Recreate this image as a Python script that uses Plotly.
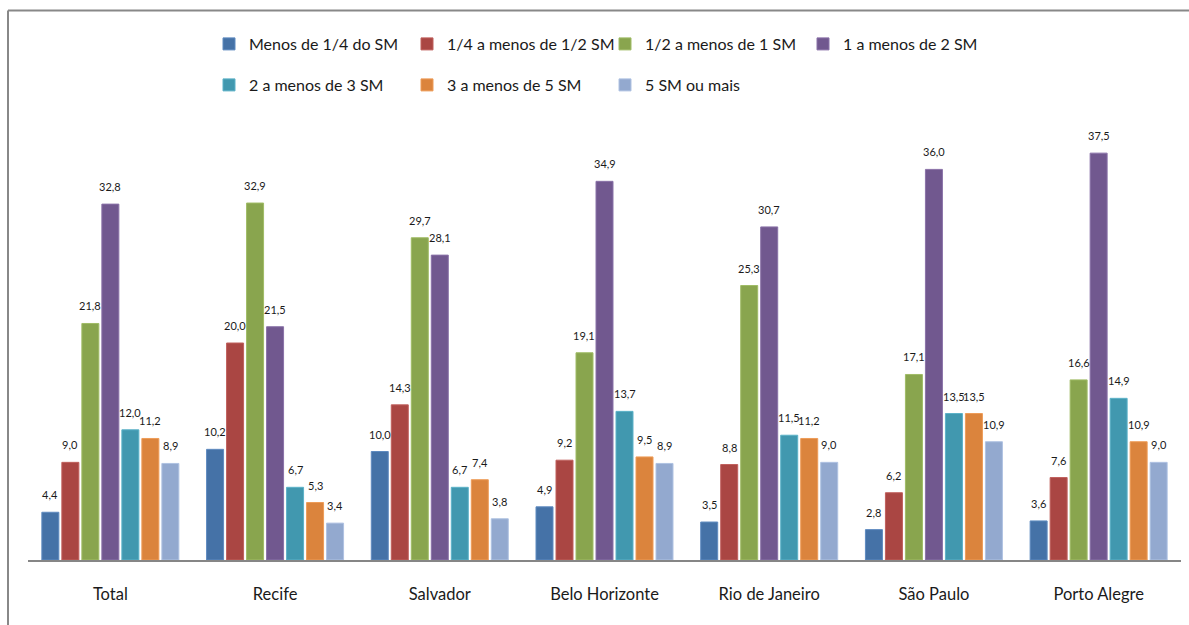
import plotly.graph_objects as go

# Income brackets (multiples of the minimum wage, SM) and metropolitan regions
categories = ["Total", "Recife", "Salvador", "Belo Horizonte",
              "Rio de Janeiro", "São Paulo", "Porto Alegre"]

series_names = ["Menos de 1/4 do SM", "1/4 a menos de 1/2 SM", "1/2 a menos de 1 SM",
                "1 a menos de 2 SM", "2 a menos de 3 SM", "3 a menos de 5 SM",
                "5 SM ou mais"]

menos_1_4 = [4.4, 10.2, 10.0, 4.9, 3.5, 2.8, 3.6]
de_1_4_a_1_2 = [9.0, 20.0, 14.3, 9.2, 8.8, 6.2, 7.6]
de_1_2_a_1 = [21.8, 32.9, 29.7, 19.1, 25.3, 17.1, 16.6]
de_1_a_2 = [32.8, 21.5, 28.1, 34.9, 30.7, 36.0, 37.5]
de_2_a_3 = [12.0, 6.7, 6.7, 13.7, 11.5, 13.5, 14.9]
de_3_a_5 = [11.2, 5.3, 7.4, 9.5, 11.2, 13.5, 10.9]
cinco_ou_mais = [8.9, 3.4, 3.8, 8.9, 9.0, 10.9, 9.0]

series_values = [menos_1_4, de_1_4_a_1_2, de_1_2_a_1, de_1_a_2,
                 de_2_a_3, de_3_a_5, cinco_ou_mais]

colors = ["#4572A7", "#AA4643", "#89A54E", "#71588F", "#4198AF", "#DB843D", "#93A9CF"]
edge_colors = ["#5F8BC0", "#C0605D", "#A0BC66", "#8A72A8", "#5CB2C8", "#EE9C58", "#AFC2E2"]

FONT = "Lato"
W, H = 1189, 625
ML, MR, MT, MB = 28, 8, 126, 65
plot_w = W - ML - MR
plot_h = H - MT - MB

fig = go.Figure()
for i, (name, vals) in enumerate(zip(series_names, series_values)):
    fig.add_trace(go.Bar(
        x=categories, y=vals, name=name,
        marker=dict(color=colors[i], line=dict(color=edge_colors[i], width=1)),
        legend="legend" if i < 4 else "legend2",
        hovertemplate="%{x}<br>" + name + ": %{y:.1f}<extra></extra>",
    ))

# Value labels above each bar
slot = plot_w / len(categories) * 0.85 / len(series_names)
annotations = []
for i, vals in enumerate(series_values):
    for cat, v in zip(categories, vals):
        annotations.append(dict(
            x=cat, y=v, xref="x", yref="y",
            text=f"{v:.1f}".replace(".", ","),
            showarrow=False, xshift=(i - 3) * slot, yshift=9,
            yanchor="bottom", xanchor="center",
            font=dict(family=FONT, size=11, color="#1a1a1a"),
        ))

def px_x(px):
    return (px - ML) / plot_w

def px_y(py):
    return (H - MB - py) / plot_h

# Outer frame (left and top edges)
shapes = [
    dict(type="line", xref="paper", yref="paper",
         x0=px_x(8), x1=px_x(W + 5), y0=px_y(10.5), y1=px_y(10.5),
         line=dict(color="#888888", width=2)),
    dict(type="line", xref="paper", yref="paper",
         x0=px_x(8), x1=px_x(8), y0=px_y(10.5), y1=px_y(H + 5),
         line=dict(color="#888888", width=2)),
]

legend_common = dict(
    orientation="h", xanchor="left", yanchor="middle",
    entrywidth=153, entrywidthmode="pixels",
    font=dict(family=FONT, size=16, color="#1a1a1a"),
    bgcolor="rgba(0,0,0,0)", itemclick=False, itemdoubleclick=False,
)

fig.update_layout(
    width=W, height=H,
    margin=dict(l=ML, r=MR, t=MT, b=MB),
    paper_bgcolor="white", plot_bgcolor="white",
    barmode="group", bargap=0.15, bargroupgap=0.15,
    showlegend=True,
    legend=dict(x=px_x(209), y=px_y(44), **legend_common),
    legend2=dict(x=px_x(209), y=px_y(85), **legend_common),
    xaxis=dict(
        showline=True, linecolor="#868686", linewidth=1.5,
        ticks="", ticklabelstandoff=18,
        tickfont=dict(family=FONT, size=16.5, color="#1a1a1a"),
        showgrid=False, fixedrange=True,
    ),
    yaxis=dict(visible=False, range=[0, 40], fixedrange=True),
    annotations=annotations,
    shapes=shapes,
)

fig.write_html("out.html")
